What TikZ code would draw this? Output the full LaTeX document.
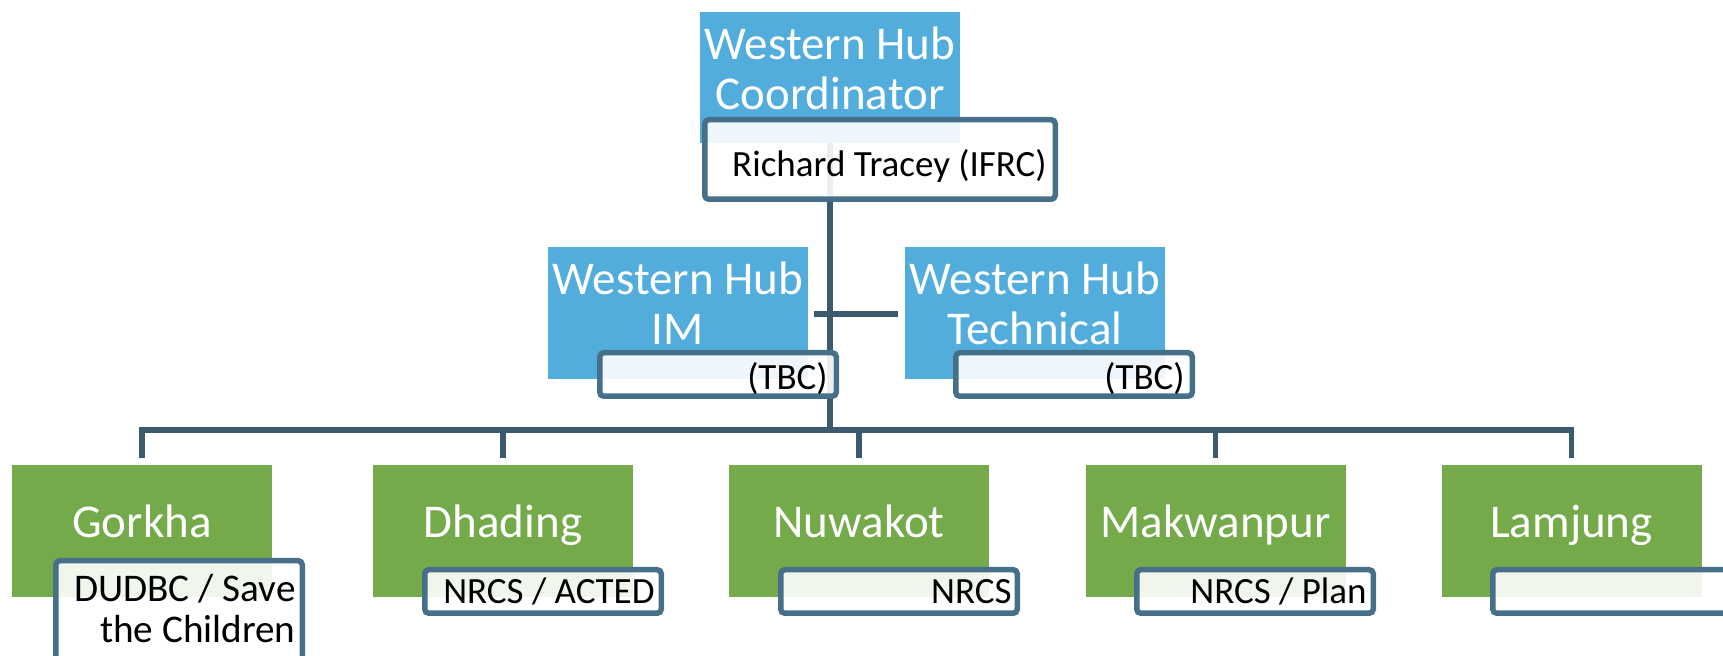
\documentclass[tikz,border=0pt]{standalone}
\usepackage{fontspec}
\setmainfont{Carlito}
\definecolor{hubblue}{HTML}{52ADDC}
\definecolor{distgreen}{HTML}{74AA4A}
\definecolor{boxline}{HTML}{46708A}
\definecolor{connline}{HTML}{3B5A6E}
\begin{document}
\begin{tikzpicture}[x=0.5pt,y=-0.5pt,
  bluebox/.style={fill=hubblue, draw=none, minimum width=130pt, minimum height=66pt, inner sep=0pt},
  greenbox/.style={fill=distgreen, draw=none, minimum width=130pt, minimum height=66pt, inner sep=0pt},
  namebox/.style={fill=white, fill opacity=0.9, draw=boxline, draw opacity=1, line width=2.75pt,
    rounded corners=2pt, minimum width=118.25pt, minimum height=21.75pt, inner sep=0pt},
  conn/.style={draw=connline, line width=2.75pt},
  bigtext/.style={text=white, font=\fontsize{23.5}{25}\selectfont, inner sep=0pt, anchor=base},
  smalltext/.style={text=black, font=\fontsize{18.5}{21.5}\selectfont, inner sep=0pt, anchor=base east},
  gorkhatext/.style={smalltext, font=\fontsize{19.6}{21.5}\selectfont}]
\useasboundingbox (0,0) rectangle (1723,656);
\clip (0,0) rectangle (1723,656);

% coloured boxes
\node[bluebox, minimum height=65.5pt] (coord) at (830,77.5) {};
\node[bluebox] (im) at (678,313) {};
\node[bluebox] (tech) at (1035,313) {};
\node[greenbox] (gorkha) at (142,531) {};
\node[greenbox] (dhading) at (503,531) {};
\node[greenbox] (nuwakot) at (859,531) {};
\node[greenbox] (makwanpur) at (1215.5,531) {};
\node[greenbox] (lamjung) at (1571.5,531) {};

% connectors
\coordinate (bus) at (830,430);
\draw[conn] (coord.south) -- (bus);
\draw[conn, shorten <=3pt, shorten >=3.5pt] ([yshift=-0.5pt]im.east) -- ([yshift=-0.5pt]tech.west);
\draw[conn] ([yshift=3.5pt]gorkha.north) |- (bus);
\draw[conn] ([yshift=3.5pt]dhading.north) |- (bus);
\draw[conn] ([yshift=3.5pt]nuwakot.north) |- (bus);
\draw[conn] ([yshift=3.5pt]makwanpur.north) |- (bus);
\draw[conn] ([yshift=3.5pt]lamjung.north) |- (bus);

% name boxes
\node[namebox, minimum width=175.25pt, minimum height=39.75pt] (coordname) at (880,159.5) {};
\node[namebox] (imname) at (718,374.5) {};
\node[namebox] (techname) at (1074,374.5) {};
\node[namebox, minimum width=123.25pt, minimum height=58.25pt] (gorkhaname) at (179,619) {};
\node[namebox] (dhadingname) at (543,591.5) {};
\node[namebox] (nuwakotname) at (899,591.5) {};
\node[namebox] (makwanpurname) at (1255,591.5) {};
\node[namebox] (lamjungname) at (1611,591.5) {};

% titles
\node[bigtext] (coordt1) at (830,60) {Western Hub};
\node[bigtext] (coordt2) at (830,110) {Coordinator};
\node[bigtext] (imt1) at (678,295) {Western Hub};
\node[bigtext] (imt2) at (678,345) {IM};
\node[bigtext] (techt1) at (1035,295) {Western Hub};
\node[bigtext] (techt2) at (1035,345) {Technical};
\node[bigtext] (gorkhat) at (142,538) {Gorkha};
\node[bigtext] (dhadingt) at (503,538) {Dhading};
\node[bigtext] (nuwakott) at (859,538) {Nuwakot};
\node[bigtext] (makwanpurt) at (1215.5,538) {Makwanpur};
\node[bigtext] (lamjungt) at (1571.5,538) {Lamjung};

% names
\node[smalltext] (coordn) at (1047,177) {Richard Tracey (IFRC)};
\node[smalltext] (imn) at (828,390) {(TBC)};
\node[smalltext] (techn) at (1185,390) {(TBC)};
\node[gorkhatext] (gorkhan1) at (296,602) {DUDBC / Save};
\node[gorkhatext] (gorkhan2) at (296,643) {the Children};
\node[smalltext] (dhadingn) at (655,604) {NRCS / ACTED};
\node[smalltext] (nuwakotn) at (1012,604) {NRCS};
\node[smalltext] (makwanpurn) at (1367,604) {NRCS / Plan};
\end{tikzpicture}
\end{document}
